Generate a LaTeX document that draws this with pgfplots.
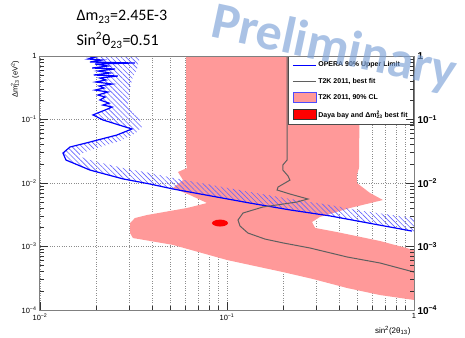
\documentclass[border=0pt]{standalone}
\usepackage{fontspec}
\setmainfont{Liberation Sans}
\newfontfamily\calibri{Carlito}
\usepackage{pgfplots}
\pgfplotsset{compat=1.18}
\usetikzlibrary{patterns.meta}
\definecolor{t2kpink}{RGB}{255,153,153}
\definecolor{t2kgray}{RGB}{95,95,95}
\definecolor{hatchblue}{RGB}{100,100,255}
\definecolor{wmblue}{RGB}{125,162,215}
\begin{document}
\begin{tikzpicture}
\useasboundingbox (0,0) rectangle (465pt,337pt);
\begin{axis}[
 at={(40pt,27pt)}, anchor=south west, scale only axis, width=374pt, height=254pt,
 xmode=log, ymode=log, xmin=0.01, xmax=1, ymin=1e-4, ymax=1,
 xtick={0.01,0.1,1}, xticklabels={10\textsuperscript{−2},10\textsuperscript{−1},1},
 ytick={1e-4,1e-3,1e-2,1e-1,1},
 yticklabels={10\textsuperscript{−4},10\textsuperscript{−3},10\textsuperscript{−2},10\textsuperscript{−1},1},
 xtick pos=bottom, ytick pos=left, tick align=inside,
 major tick length=8pt, minor tick length=4pt,
 every tick/.style={black!80, line width=0.6pt},
 axis line style={draw=gray, line width=1pt},
 xmajorgrids, xminorgrids, ymajorgrids,
 grid style={dotted, gray!90, line width=0.45pt},
 ticklabel style={font=\fontsize{7.5}{9}\selectfont},
 legend style={at={(1,1)}, anchor=north east, draw=black!70, line width=0.8pt, fill=white,
   font=\fontsize{7}{8}\selectfont\bfseries, inner xsep=4pt, inner ysep=3.5pt, row sep=5.7pt},
 legend cell align=left,
]
% T2K 90% CL region
\addplot[fill=t2kpink, draw=none, forget plot] coordinates {
(0.0604,1) (0.514,1) (0.508,0.0172) (0.495,0.0134) (0.495,0.0100) (0.582,0.00696) (0.682,0.0054)
(0.455,0.00404) (0.314,0.00292) (0.285,0.00243) (0.296,0.00196) (0.387,0.00169) (0.658,0.00122)
(1,0.00088) (1,0.000144) (0.658,0.000172) (0.439,0.000222) (0.288,0.000308) (0.199,0.000396)
(0.1,0.000613) (0.0514,0.00106) (0.0314,0.00136) (0.0303,0.00163) (0.0303,0.00234) (0.0322,0.00281)
(0.0373,0.00313) (0.0611,0.00404) (0.0782,0.00484) (0.0634,0.00647) (0.0514,0.00834) (0.0582,0.0111)
(0.0547,0.0149) (0.0611,0.0172) (0.0604,0.0207)
} -- cycle;
% OPERA exclusion hatch band
\addplot[draw=none, pattern={Lines[angle=-45,distance=3.5pt,line width=0.6pt]}, pattern color=hatchblue, forget plot] coordinates {
(0.01637,1) (0.0199,0.9644) (0.0181,0.897) (0.0215,0.865) (0.0185,0.804) (0.0322,0.776) (0.0197,0.748)
(0.0231,0.696) (0.0190,0.647) (0.0252,0.624) (0.0204,0.580) (0.0237,0.540) (0.0194,0.502) (0.0261,0.484)
(0.0209,0.450) (0.0225,0.419) (0.0199,0.390) (0.0243,0.362) (0.0207,0.337) (0.0220,0.313) (0.0197,0.291)
(0.0231,0.271) (0.0204,0.243) (0.0223,0.226) (0.0209,0.203) (0.0234,0.181) (0.0217,0.169) (0.0243,0.157)
(0.0223,0.141) (0.0204,0.127) (0.0192,0.118) (0.0202,0.1097) (0.0217,0.0984) (0.0310,0.0709) (0.0258,0.0570)
(0.0185,0.0442) (0.01447,0.0369) (0.01327,0.0296) (0.01377,0.0230) (0.01501,0.0207) (0.0185,0.0160)
(0.0278,0.0116) (0.0387,0.00965) (0.0514,0.00805) (0.0884,0.00601) (0.1327,0.00483) (0.217,0.00377)
(0.356,0.00303) (0.533,0.00243) (0.975,0.00175) (1,0.0017)
(1.0,0.00281) (0.533,0.00362) (0.356,0.00451) (0.217,0.0056) (0.1327,0.00722) (0.0884,0.00897)
(0.0514,0.0120) (0.0387,0.01437) (0.0278,0.0172) (0.0185,0.0230) (0.01596,0.0266) (0.0174,0.0308)
(0.0209,0.0369) (0.0268,0.0459) (0.0326,0.0613) (0.0351,0.0762) (0.0343,0.0984) (0.0310,0.131)
(0.02955,0.163) (0.0299,0.203) (0.0303,0.302) (0.0310,0.419) (0.0330,0.624) (0.0343,1)
} -- cycle;
% OPERA 90% upper limit
\addplot[blue, line width=1.2pt, forget plot] coordinates {
(0.01637,1) (0.0199,0.9644) (0.0181,0.897) (0.0215,0.865) (0.0185,0.804) (0.0322,0.776) (0.0197,0.748)
(0.0231,0.696) (0.0190,0.647) (0.0252,0.624) (0.0204,0.580) (0.0237,0.540) (0.0194,0.502) (0.0261,0.484)
(0.0209,0.450) (0.0225,0.419) (0.0199,0.390) (0.0243,0.362) (0.0207,0.337) (0.0220,0.313) (0.0197,0.291)
(0.0231,0.271) (0.0204,0.243) (0.0223,0.226) (0.0209,0.203) (0.0234,0.181) (0.0217,0.169) (0.0243,0.157)
(0.0223,0.141) (0.0204,0.127) (0.0192,0.118) (0.0202,0.1097) (0.0217,0.0984) (0.0310,0.0709) (0.0258,0.0570)
(0.0185,0.0442) (0.01447,0.0369) (0.01327,0.0296) (0.01377,0.0230) (0.01501,0.0207) (0.0185,0.0160)
(0.0278,0.0116) (0.0387,0.00965) (0.0514,0.00805) (0.0884,0.00601) (0.1327,0.00483) (0.217,0.00377)
(0.356,0.00303) (0.533,0.00243) (0.975,0.00175)
};
% T2K best fit
\addplot[t2kgray, line width=1pt, forget plot] coordinates {
(0.2095,1) (0.2095,0.0230) (0.199,0.0192) (0.199,0.0160) (0.212,0.0129) (0.217,0.0111) (0.1876,0.00865)
(0.1853,0.00776) (0.217,0.00671) (0.271,0.0056) (0.2366,0.00502) (0.1558,0.00419) (0.1218,0.00337)
(0.1145,0.00261) (0.1174,0.0021) (0.1294,0.00163) (0.1596,0.00131) (0.199,0.00114) (0.278,0.000947)
(0.439,0.000684) (0.658,0.00055) (1.0,0.000396)
};
% Daya Bay best fit
\addplot[fill=red, draw=none, forget plot] coordinates {
(0.1013,0.00234) (0.1000,0.00249) (0.0964,0.00261) (0.0918,0.002656) (0.0874,0.00261) (0.0842,0.00249)
(0.0831,0.00234) (0.0842,0.002197) (0.0874,0.002097) (0.0918,0.002062) (0.0964,0.002097) (0.1000,0.002197)
} -- cycle;
\addlegendimage{legend image code/.code={\path[draw=none,fill=none] (0pt,-5pt) rectangle (23pt,5pt); \draw[blue,line width=1pt] (0pt,0pt) -- (23pt,0pt);}}
\addlegendentry{OPERA 90\% Upper Limit}
\addlegendimage{legend image code/.code={\path[draw=none,fill=none] (0pt,-5pt) rectangle (23pt,5pt); \draw[t2kgray,line width=0.8pt] (0pt,0pt) -- (23pt,0pt);}}
\addlegendentry{T2K 2011, best fit}
\addlegendimage{legend image code/.code={\draw[fill=t2kpink, draw=blue!70, line width=0.6pt] (0pt,-5pt) rectangle (23pt,5pt);}}
\addlegendentry{T2K 2011, 90\% CL}
\addlegendimage{legend image code/.code={\draw[fill=red, draw=black!80, line width=0.6pt] (0pt,-5pt) rectangle (23pt,5pt);}}
\addlegendentry{Daya bay and Δm\rlap{\textsuperscript{2}}\textsubscript{23} best fit}
\end{axis}
\begin{axis}[
 at={(40pt,27pt)}, anchor=south west, scale only axis, width=374pt, height=254pt,
 xmode=log, ymode=log, xmin=0.01, xmax=1, ymin=1e-4, ymax=1,
 xtick=\empty, xticklabels={},
 ytick={1e-4,1e-3,1e-2,1e-1,1},
 yticklabels={10\textsuperscript{−4},10\textsuperscript{−3},10\textsuperscript{−2},10\textsuperscript{−1},1},
 ytick pos=right, yticklabel pos=right, tick align=inside,
 major tick length=8pt, minor tick length=4pt,
 every tick/.style={black!80, line width=0.6pt},
 axis line style={draw=gray, line width=1pt},
 yticklabel style={font=\fontsize{10}{12}\selectfont\bfseries},
]
\end{axis}
\node[rotate=90, anchor=east, font=\fontsize{7.5}{9}\selectfont] at (15pt,280pt) {Δm\rlap{\textsuperscript{2}}\textsubscript{13} (eV\textsuperscript{2})};
\node[anchor=base east, font=\fontsize{8}{9}\selectfont] at (414pt,4pt) {sin\textsuperscript{2}(2θ\textsubscript{13})};
\node[anchor=west, font=\calibri\fontsize{16}{18}\selectfont] at (73pt,320pt) {Δm\textsubscript{23}=2.45E-3};
\node[anchor=west, font=\calibri\fontsize{16}{18}\selectfont] at (73pt,297pt) {Sin\textsuperscript{2}θ\textsubscript{23}=0.51};
\node[rotate=-12, text=wmblue, text opacity=0.65, font=\calibri\bfseries\fontsize{52}{62}\selectfont] at (334pt,288pt) {Preliminary};
\end{tikzpicture}
\end{document}
